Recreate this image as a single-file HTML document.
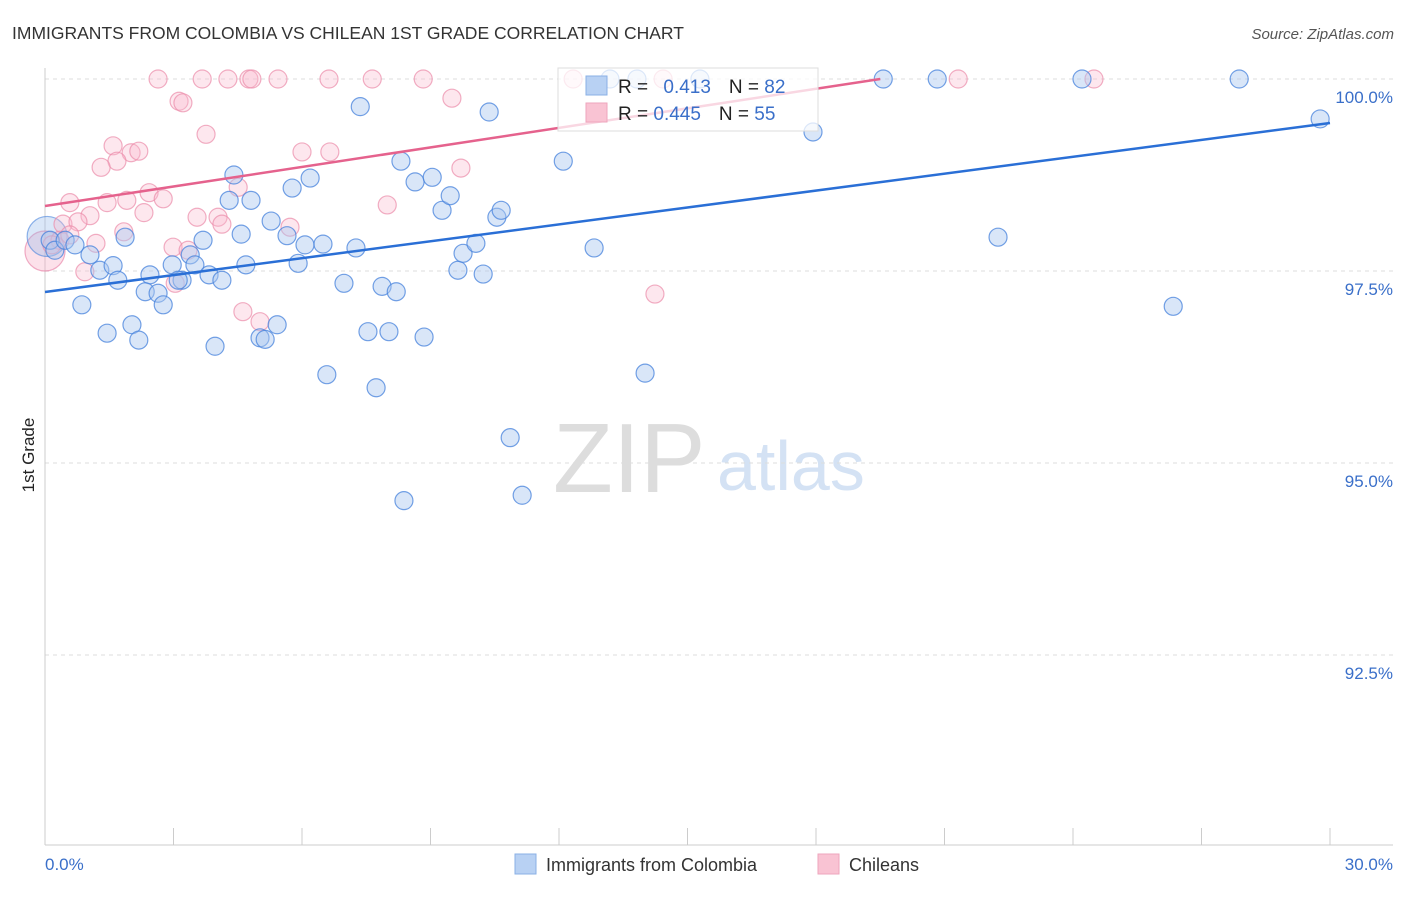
<!DOCTYPE html>
<html><head><meta charset="utf-8"><style>
body{margin:0;background:#fff;font-family:"Liberation Sans",sans-serif;}
svg text{font-family:"Liberation Sans",sans-serif;}
</style></head><body>
<svg id="chart" width="1406" height="892">
<text x="12" y="39" font-size="17.5" fill="#333">IMMIGRANTS FROM COLOMBIA VS CHILEAN 1ST GRADE CORRELATION CHART</text>
<text x="1394" y="39" font-size="15" fill="#555" font-style="italic" text-anchor="end">Source: ZipAtlas.com</text>
<g>
<text x="553" y="492" font-size="98" fill="#ddd" font-family="Liberation Serif">ZIP</text>
<text x="717" y="490" font-size="70" fill="#d4e2f4">atlas</text>
</g>
<g id="grid"></g><g id="axes"></g><g id="pts"></g><g id="lines"></g>
<g>
<rect x="558" y="68" width="260" height="63" fill="rgba(255,255,255,0.75)" stroke="#ddd"/>
<rect x="586" y="76" width="21" height="19" fill="#b8d1f3" stroke="#8ab0e6"/>
<rect x="586" y="103" width="21" height="19" fill="#f9c3d3" stroke="#eea6bc"/>
<text x="618" y="93" font-size="19" fill="#222">R = <tspan fill="#3a6fc9" dx="10">0.413</tspan><tspan dx="18" fill="#222">N = </tspan><tspan fill="#3a6fc9">82</tspan></text>
<text x="618" y="120" font-size="19" fill="#222">R = <tspan fill="#3a6fc9">0.445</tspan><tspan dx="18" fill="#222">N = </tspan><tspan fill="#3a6fc9">55</tspan></text>
</g>
<text x="34" y="455" font-size="17" fill="#222" transform="rotate(-90 34 455)" text-anchor="middle">1st Grade</text>
<text x="45" y="870" font-size="17" fill="#3a6fc9">0.0%</text>
<text x="1393" y="870" font-size="17" fill="#3a6fc9" text-anchor="end">30.0%</text>
<g>
<rect x="515" y="854" width="21" height="20" fill="#b8d1f3" stroke="#8ab0e6"/>
<text x="546" y="871" font-size="18" fill="#333">Immigrants from Colombia</text>
<rect x="818" y="854" width="21" height="20" fill="#f9c3d3" stroke="#eea6bc"/>
<text x="849" y="871" font-size="18" fill="#333">Chileans</text>
</g>
</svg>
<script>
const yTicks=[100,97.5,95,92.5];
const yTickLabels=["100.0%","97.5%","95.0%","92.5%"];
const xTicks=[3,6,9,12,15,18,21,24,27,30];
const colombiaPts=[[0.12,97.90],[0.23,97.77],[0.47,97.90],[0.70,97.84],[1.05,97.71],[1.28,97.51],[1.59,97.57],[1.70,97.38],[0.86,97.06],[1.45,96.69],[2.03,96.80],[2.19,96.60],[1.87,97.94],[2.45,97.45],[2.34,97.23],[2.64,97.21],[2.76,97.06],[2.97,97.58],[3.20,97.38],[3.11,97.38],[3.39,97.71],[3.50,97.58],[3.69,97.90],[3.83,97.45],[3.97,96.52],[4.13,97.38],[4.30,98.42],[4.41,98.75],[4.58,97.98],[4.69,97.58],[4.81,98.42],[5.02,96.63],[5.14,96.61],[5.42,96.80],[5.28,98.15],[5.65,97.96],[5.77,98.58],[5.91,97.60],[6.07,97.84],[6.19,98.71],[6.49,97.85],[6.58,96.15],[6.98,97.34],[7.26,97.80],[7.36,99.64],[7.54,96.71],[7.73,95.98],[7.87,97.30],[8.03,96.71],[8.20,97.23],[8.31,98.93],[8.38,94.51],[8.64,98.66],[8.85,96.64],[9.04,98.72],[9.27,98.29],[9.46,98.48],[9.64,97.51],[9.76,97.73],[10.06,97.86],[10.23,97.46],[10.37,99.57],[10.55,98.20],[10.65,98.29],[10.86,95.33],[11.14,94.58],[12.10,98.93],[12.82,97.80],[14.01,96.17],[17.93,99.31],[19.57,100],[20.83,100],[22.25,97.94],[24.21,100],[26.34,97.04],[27.88,100],[29.77,99.48],[13.19,100],[13.82,100],[15.29,100]];
const colombiaBig=[[0.05,97.95]];
const chileanPts=[[2.64,100],[3.67,100],[4.27,100],[4.76,100],[4.83,100],[5.44,100],[6.63,100],[7.64,100],[8.83,100],[3.13,99.71],[3.22,99.69],[3.76,99.28],[9.50,99.75],[1.59,99.13],[2.01,99.04],[2.19,99.06],[1.68,98.93],[1.31,98.85],[6.00,99.05],[6.65,99.05],[9.71,98.84],[0.58,98.39],[1.45,98.39],[1.91,98.42],[2.43,98.52],[2.76,98.44],[1.05,98.22],[2.31,98.26],[3.55,98.20],[4.04,98.20],[4.13,98.11],[0.42,98.11],[0.77,98.14],[1.84,98.01],[4.51,98.59],[7.99,98.36],[5.72,98.07],[2.99,97.81],[3.34,97.77],[1.19,97.86],[0.93,97.49],[4.62,96.97],[5.02,96.84],[3.04,97.34],[14.24,97.20],[12.33,100],[21.32,100],[24.49,100],[0.35,97.90],[0.16,97.84],[0.58,97.97],[14.43,100]];
const chileanBig=[[0.0,97.76]];
const colombiaTrend=[[0,97.227],[30,99.427]];
const chileanTrend=[[0,98.346],[19.5,100]];
const X0=45,X1=1330,Y0=79;
function sx(v){return X0+(v/30)*(X1-X0);}
function sy(v){return Y0+(100-v)/2.5*192;}
const NS="http://www.w3.org/2000/svg";
function mk(tag,attrs,parent){const e=document.createElementNS(NS,tag);for(const k in attrs)e.setAttribute(k,attrs[k]);document.getElementById(parent).appendChild(e);return e;}
yTicks.forEach((t,i)=>{
 const l=mk('line',{x1:45,x2:1393,y1:sy(t),y2:sy(t),stroke:'#ddd','stroke-dasharray':'4,4'},'grid');
 
 
 const tx=mk('text',{x:1393,y:sy(t)+24,'font-size':17,fill:'#3a6fc9','text-anchor':'end'},'grid');
 tx.textContent=yTickLabels[i];
 
 
});
const ya=mk('line',{x1:45,x2:45,y1:68,y2:845,stroke:'#ccc'},'axes');


const xa=mk('line',{x1:45,x2:1393,y1:845,y2:845,stroke:'#ccc'},'axes');


xTicks.forEach(t=>{
 const l=mk('line',{x1:sx(t),x2:sx(t),y1:828,y2:845,stroke:'#ccc'},'axes');
 
 
});
function pts(arr,r,fill,stroke,name){arr.forEach(p=>{
 const c=mk('circle',{cx:sx(p[0]),cy:sy(p[1]),r:r,fill:fill,stroke:stroke,'stroke-width':1.2},'pts');
 
 
});}
pts(chileanBig,20,'rgba(246,170,195,0.35)','rgba(230,120,160,0.6)','chilean-point');
pts(colombiaBig,20,'rgba(150,185,235,0.35)','rgba(70,130,220,0.6)','colombia-point');
pts(chileanPts,9,'rgba(248,185,205,0.35)','rgba(235,140,170,0.7)','chilean-point');
pts(colombiaPts,9,'rgba(170,200,240,0.45)','rgba(70,130,220,0.75)','colombia-point');
function tl(a,col,name){const l=mk('line',{x1:sx(a[0][0]),y1:sy(a[0][1]),x2:sx(a[1][0]),y2:sy(a[1][1]),stroke:col,'stroke-width':2.5},'lines');
 
 }
tl(colombiaTrend,'#2a6fd6','colombia-trendline');
tl(chileanTrend,'#e5628d','chilean-trendline');
</script>
</body></html>
